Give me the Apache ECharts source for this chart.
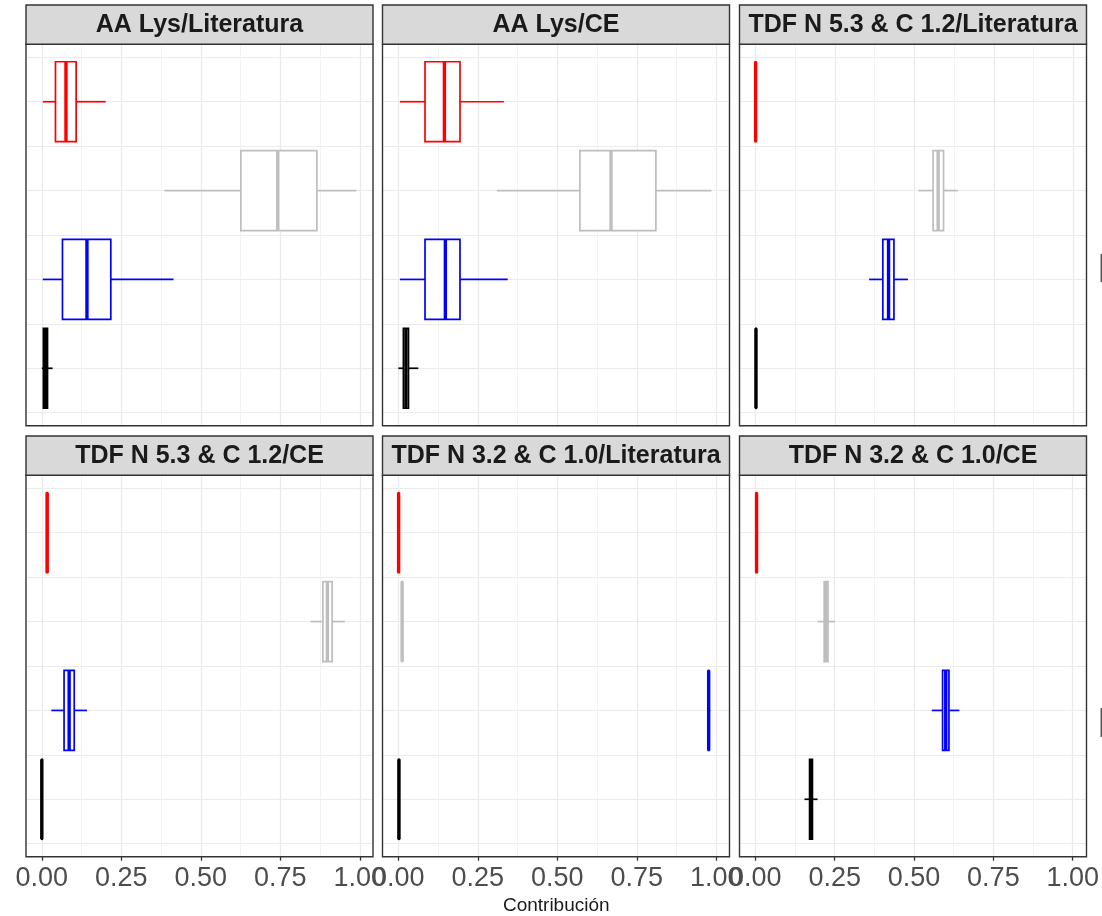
<!DOCTYPE html>
<html>
<head>
<meta charset="utf-8">
<script src="https://cdn.jsdelivr.net/npm/echarts@6/dist/echarts.min.js"></script>
<style>
  html, body { margin: 0; padding: 0; background: #ffffff; }
  #chart { width: 1102px; height: 916px; }
</style>
</head>
<body>
<div id="chart"></div>
<script>
// Facet titles, row by row
const PANEL_TITLES = [
  'AA Lys/Literatura',
  'AA Lys/CE',
  'TDF N 5.3 & C 1.2/Literatura',
  'TDF N 5.3 & C 1.2/CE',
  'TDF N 3.2 & C 1.0/Literatura',
  'TDF N 3.2 & C 1.0/CE'
];
const X_TICKS = [0, 0.25, 0.5, 0.75, 1];
const X_TITLE = 'Contribución';

// One colour per source, listed from the top row of a panel downwards
const SOURCE_COLORS = ['#ff0000', '#bebebe', '#0000ff', '#000000'];

// Five-number summaries per source: [min, Q1, median, Q3, max]
const aaLysLit = [
  [0.003, 0.043, 0.076, 0.108, 0.201],
  [0.386, 0.626, 0.742, 0.865, 0.989],
  [0.003, 0.065, 0.142, 0.217, 0.414],
  [0.000, 0.005, 0.012, 0.018, 0.034]
];
const aaLysCE = [
  [0.005, 0.084, 0.145, 0.194, 0.332],
  [0.310, 0.571, 0.669, 0.810, 0.985],
  [0.005, 0.084, 0.148, 0.194, 0.344],
  [0.000, 0.016, 0.024, 0.032, 0.063]
];
const tdf53Lit = [
  [0.000, 0.000, 0.001, 0.002, 0.002],
  [0.513, 0.559, 0.575, 0.592, 0.637],
  [0.358, 0.401, 0.419, 0.436, 0.480],
  [0.002, 0.002, 0.002, 0.003, 0.003]
];
const tdf53CE = [
  [0.014, 0.015, 0.017, 0.018, 0.019],
  [0.845, 0.884, 0.898, 0.913, 0.953],
  [0.030, 0.070, 0.086, 0.102, 0.142],
  [0.000, 0.000, 0.000, 0.001, 0.001]
];
const tdf32Lit = [
  [0.000, 0.000, 0.001, 0.002, 0.002],
  [0.009, 0.011, 0.012, 0.013, 0.015],
  [0.971, 0.975, 0.976, 0.977, 0.981],
  [0.001, 0.001, 0.002, 0.003, 0.003]
];
const tdf32CE = [
  [0.003, 0.003, 0.004, 0.005, 0.005],
  [0.196, 0.217, 0.223, 0.229, 0.251],
  [0.556, 0.590, 0.600, 0.610, 0.643],
  [0.155, 0.171, 0.175, 0.180, 0.196]
];
const PANEL_DATA = [aaLysLit, aaLysCE, tdf53Lit, tdf53CE, tdf32Lit, tdf32CE];

// ---- layout (pixels) ----
const FONT = "'Liberation Sans', Arial, Helvetica, sans-serif";
const PANEL_LEFT = [26, 382.5, 739.5];
const PANEL_W = 347;
const STRIP_TOP = [5, 436];
const STRIP_H = 39.3;
const PANEL_H = 381.4;
const X0_OFFSET = 15.8;   // distance from panel edge to x = 0
const X_UNIT = 318;       // pixels for one unit of x
const Y_PAD = 13;         // panel edge to the outer half-category line
const Y_UNIT = (PANEL_H - 2 * Y_PAD) / 4;
const BOX_WIDTH = 0.9;    // in category units
const LINE_W = 1.7;
const GRID_COLOR = '#ebebeb';

function renderBox(params, api) {
  const pos = api.value(0);
  const pts = [1, 2, 3, 4, 5].map(d => api.coord([api.value(d), pos]));
  const h = api.size([0, BOX_WIDTH])[1];
  const cy = pts[0][1];
  const top = cy - h / 2;
  const color = SOURCE_COLORS[params.dataIndex];
  const line = { stroke: color, lineWidth: LINE_W, fill: null };
  return {
    type: 'group',
    children: [
      { type: 'line', shape: { x1: pts[0][0], y1: cy, x2: pts[1][0], y2: cy }, style: line },
      { type: 'line', shape: { x1: pts[3][0], y1: cy, x2: pts[4][0], y2: cy }, style: line },
      { type: 'rect', shape: { x: pts[1][0], y: top, width: pts[3][0] - pts[1][0], height: h },
        style: { stroke: color, lineWidth: LINE_W, fill: '#ffffff' } },
      { type: 'line', shape: { x1: pts[2][0], y1: top, x2: pts[2][0], y2: top + h },
        style: { stroke: color, lineWidth: LINE_W * 2, fill: null } }
    ]
  };
}

const grids = [], xAxes = [], yAxes = [], series = [], graphics = [];

PANEL_TITLES.forEach((title, i) => {
  const row = Math.floor(i / 3), col = i % 3;
  const left = PANEL_LEFT[col];
  const stripTop = STRIP_TOP[row];
  const top = stripTop + STRIP_H;
  const bottomRow = row === 1;

  // data grid: x spans [0, 1], full panel height
  grids.push({ left: left + X0_OFFSET, top: top, width: X_UNIT, height: PANEL_H });
  // horizontal guide grid: full panel width, between outer half-category lines
  grids.push({ left: left, top: top + Y_PAD, width: PANEL_W, height: PANEL_H - 2 * Y_PAD });

  const g = i * 2;
  xAxes.push({
    gridIndex: g, type: 'value', min: X_TICKS[0], max: X_TICKS[X_TICKS.length - 1],
    interval: X_TICKS[1] - X_TICKS[0],
    axisLine: { show: false },
    axisTick: { show: bottomRow, length: 4, lineStyle: { color: '#333333', width: 1.3 } },
    axisLabel: {
      show: bottomRow, margin: 8, fontSize: 27, color: '#4d4d4d', fontFamily: FONT,
      formatter: v => v.toFixed(2)
    },
    splitLine: { show: true, lineStyle: { color: GRID_COLOR, width: 1.3 } },
    minorTick: { show: false, splitNumber: 2 },
    minorSplitLine: { show: true, lineStyle: { color: '#f0f0f0', width: 0.8 } }
  });
  yAxes.push({
    gridIndex: g, type: 'value', inverse: true,
    min: 0.5 - Y_PAD / Y_UNIT, max: 4.5 + Y_PAD / Y_UNIT,
    show: false, splitLine: { show: false }
  });
  xAxes.push({ gridIndex: g + 1, type: 'value', min: 0, max: 1, show: false, splitLine: { show: false } });
  yAxes.push({
    gridIndex: g + 1, type: 'value', inverse: true, min: 0.5, max: 4.5, interval: 0.5,
    axisLine: { show: false }, axisTick: { show: false }, axisLabel: { show: false },
    splitLine: { show: true, lineStyle: { color: GRID_COLOR, width: 1.1 } }
  });

  series.push({
    type: 'custom',
    xAxisIndex: g, yAxisIndex: g,
    renderItem: renderBox,
    encode: { x: [1, 2, 3, 4, 5], y: 0 },
    clip: false,
    z: 5,
    data: PANEL_DATA[i].map((s, k) => [k + 1].concat(s))
  });

  // panel border
  graphics.push({
    type: 'rect', z: 100,
    shape: { x: left, y: top, width: PANEL_W, height: PANEL_H },
    style: { fill: null, stroke: '#333333', lineWidth: 1.4 }
  });
  // facet strip
  graphics.push({
    type: 'rect', z: 100,
    shape: { x: left, y: stripTop, width: PANEL_W, height: STRIP_H },
    style: { fill: '#d9d9d9', stroke: '#333333', lineWidth: 1.4 }
  });
  graphics.push({
    type: 'text', z: 101,
    x: left + PANEL_W / 2, y: stripTop + STRIP_H / 2,
    style: {
      text: title, fill: '#1a1a1a', font: 'bold 25px ' + FONT,
      align: 'center', verticalAlign: 'middle'
    }
  });
});

// shared x-axis title
graphics.push({
  type: 'text', z: 101,
  x: PANEL_LEFT[0] + (PANEL_LEFT[2] + PANEL_W - PANEL_LEFT[0]) / 2, y: 906,
  style: { text: X_TITLE, fill: '#1a1a1a', font: '19px ' + FONT, align: 'center', verticalAlign: 'middle' }
});
// edge of the legend keys beyond the right margin
[[254, 282], [708, 737]].forEach(([a, b]) => {
  graphics.push({
    type: 'line', z: 101,
    shape: { x1: 1101.3, y1: a, x2: 1101.3, y2: b },
    style: { stroke: '#555555', lineWidth: 1.5 }
  });
});

const chart = echarts.init(document.getElementById('chart'), null, { renderer: 'canvas' });
chart.setOption({
  animation: false,
  backgroundColor: '#ffffff',
  grid: grids,
  xAxis: xAxes,
  yAxis: yAxes,
  series: series,
  graphic: graphics
});
</script>
</body>
</html>
